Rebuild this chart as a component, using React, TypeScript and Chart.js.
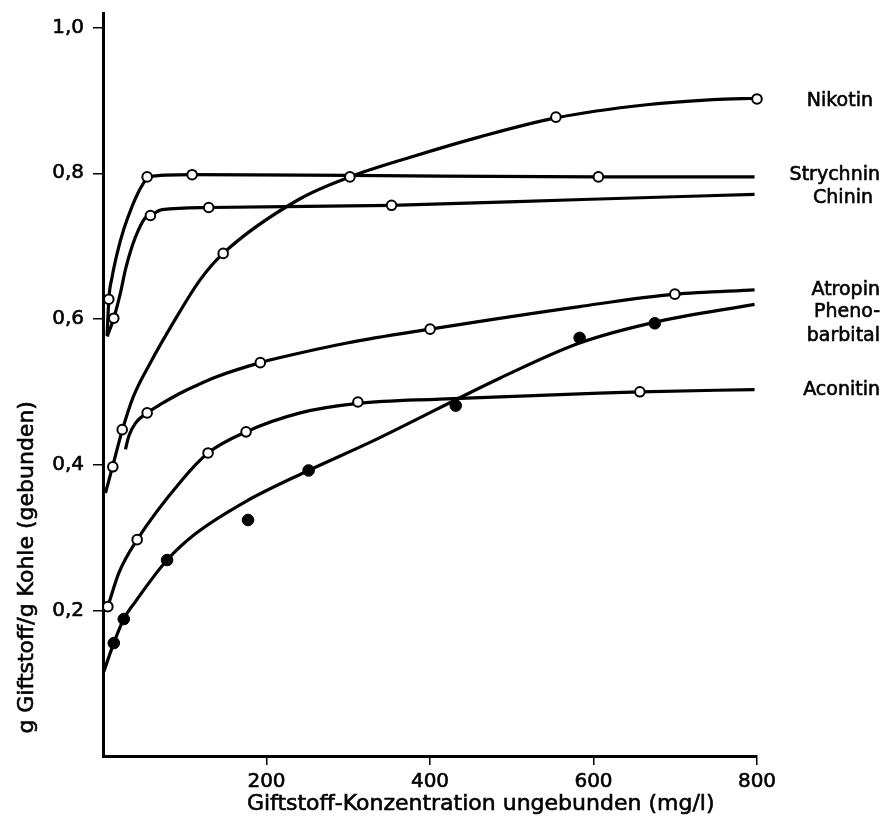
import { useEffect, useRef } from 'react';
import { Chart, registerables } from 'chart.js';

Chart.register(...registerables);

// ---------- axis ----------
const xTickValues = [200, 400, 600, 800];
const xTickLabels = ['200', '400', '600', '800'];
const yTickValues = [0.2, 0.4, 0.6, 0.8, 1.0];
const yTickLabels = ['0,2', '0,4', '0,6', '0,8', '1,0'];
const xTitle = 'Giftstoff-Konzentration ungebunden (mg/l)';
const yTitle = 'g Giftstoff/g Kohle (gebunden)';

// ---------- series names ----------
const seriesNames = ['Nikotin', 'Strychnin', 'Chinin', 'Atropin', 'Pheno-\nbarbital', 'Aconitin'];

// ---------- Nikotin ----------
const nikotinCurveX = [3, 11.6, 23.8, 37, 58, 86, 119, 147, 241, 302, 379, 461, 554, 665, 746, 800];
const nikotinCurveY = [0.361, 0.397, 0.448, 0.493, 0.54, 0.595, 0.654, 0.69, 0.765, 0.795, 0.823, 0.85, 0.876, 0.894, 0.901, 0.903];
const nikotinMarkX = [12, 23.5, 147, 302, 554, 800];
const nikotinMarkY = [0.397, 0.448, 0.69, 0.795, 0.877, 0.902];

// ---------- Strychnin ----------
const strychninCurveX = [5, 7.1, 11.2, 17.3, 25.4, 35.7, 43.7, 51.9, 54, 109, 300, 606, 797];
const strychninCurveY = [0.577, 0.627, 0.658, 0.69, 0.723, 0.755, 0.775, 0.791, 0.795, 0.798, 0.797, 0.795, 0.795];
const strychninMarkX = [7.1, 54, 109, 606];
const strychninMarkY = [0.627, 0.795, 0.798, 0.795];

// ---------- Chinin ----------
const chininCurveX = [5.1, 13.2, 21.4, 27.5, 35.7, 43.7, 51.9, 58, 72.3, 129.3, 353, 587, 797];
const chininCurveY = [0.576, 0.601, 0.636, 0.668, 0.7, 0.723, 0.739, 0.742, 0.75, 0.753, 0.756, 0.764, 0.771];
const chininMarkX = [13.2, 58, 129.3, 353];
const chininMarkY = [0.601, 0.742, 0.753, 0.756];

// ---------- Atropin ----------
const atropinCurveX = [27.5, 31.5, 39.7, 54, 72.3, 92.6, 113, 137.4, 192.4, 216.9, 298.4, 400.1, 583, 699.5, 797];
const atropinCurveY = [0.421, 0.439, 0.457, 0.471, 0.484, 0.497, 0.508, 0.52, 0.54, 0.547, 0.567, 0.586, 0.617, 0.634, 0.64];
const atropinMarkX = [54, 192.4, 400.1, 699.5];
const atropinMarkY = [0.471, 0.54, 0.586, 0.634];

// ---------- Phenobarbital ----------
const phenoCurveX = [1, 13.2, 25.4, 39.7, 78.4, 113, 174, 251.5, 333, 486, 583, 681, 797];
const phenoCurveY = [0.116, 0.155, 0.188, 0.212, 0.269, 0.305, 0.349, 0.392, 0.434, 0.519, 0.567, 0.597, 0.62];
const phenoMarkX = [13.2, 25.4, 78.4, 177.4, 251.5, 431.5, 583, 675];
const phenoMarkY = [0.155, 0.188, 0.269, 0.324, 0.392, 0.481, 0.574, 0.594];

// ---------- Aconitin ----------
const aconitinCurveX = [5.9, 19.3, 41.8, 96.7, 128.5, 175, 241.3, 311.8, 412, 583, 656.7, 797];
const aconitinCurveY = [0.205, 0.251, 0.297, 0.379, 0.416, 0.445, 0.471, 0.484, 0.49, 0.497, 0.5, 0.503];
const aconitinMarkX = [5.9, 41.8, 128.5, 175, 311.8, 656.7];
const aconitinMarkY = [0.205, 0.297, 0.416, 0.445, 0.486, 0.5];

const FONT = '"DejaVu Sans", "Liberation Sans", sans-serif';

const zip = (xs: number[], ys: number[]) => xs.map((x, i) => ({ x, y: ys[i] }));

const curve = (label: string, xs: number[], ys: number[]) => ({
  label,
  data: zip(xs, ys),
  showLine: true,
  borderColor: '#000',
  borderWidth: 3.2,
  pointRadius: 0,
  cubicInterpolationMode: 'monotone' as const,
  tension: 0.4,
  order: 2,
});

const openMarks = (label: string, xs: number[], ys: number[]) => ({
  label,
  data: zip(xs, ys),
  showLine: false,
  pointRadius: 4.8,
  pointBackgroundColor: '#fff',
  pointBorderColor: '#000',
  pointBorderWidth: 2,
  clip: false,
  order: 1,
});

const filledMarks = (label: string, xs: number[], ys: number[]) => ({
  label,
  data: zip(xs, ys),
  showLine: false,
  pointRadius: 5.8,
  pointBackgroundColor: '#000',
  pointBorderColor: '#000',
  pointBorderWidth: 1,
  clip: false,
  order: 1,
});

const drawText = (ctx: CanvasRenderingContext2D, t: string, x: number, y: number) => {
  ctx.fillText(t, x, y);
  ctx.strokeText(t, x, y);
};

const labelPlugin = {
  id: 'seriesLabels',
  afterDraw(chart: any) {
    const { ctx } = chart;
    const ys = chart.scales.y;
    const xs = chart.scales.x;
    ctx.save();
    ctx.fillStyle = '#000';
    ctx.strokeStyle = '#000';
    ctx.lineWidth = 0.6;
    ctx.font = `19px ${FONT}`;
    ctx.textAlign = 'right';
    ctx.textBaseline = 'middle';
    const anchors = [0.899, 0.797, 0.766, 0.64, 0.609, 0.577, 0.503];
    const rightInset = [12, 5, 12, 5, 5, 5, 5];
    const lines = [seriesNames[0], seriesNames[1], seriesNames[2], seriesNames[3], ...seriesNames[4].split('\n'), seriesNames[5]];
    lines.forEach((t, i) => drawText(ctx, t, chart.width - rightInset[i], ys.getPixelForValue(anchors[i])));

    // axis titles
    ctx.font = `22px ${FONT}`;
    ctx.textAlign = 'center';
    ctx.textBaseline = 'middle';
    drawText(ctx, xTitle, xs.getPixelForValue(462), chart.height - 27);
    ctx.translate(27, ys.getPixelForValue(0.259));
    ctx.rotate(-Math.PI / 2);
    drawText(ctx, yTitle, 0, 0);
    ctx.restore();
  },
};

export default function App() {
  const ref = useRef<HTMLCanvasElement | null>(null);
  useEffect(() => {
    if (!ref.current) return;
    const chart = new Chart(ref.current, {
      type: 'scatter',
      data: {
        datasets: [
          curve('Nikotin', nikotinCurveX, nikotinCurveY),
          curve('Strychnin', strychninCurveX, strychninCurveY),
          curve('Chinin', chininCurveX, chininCurveY),
          curve('Atropin', atropinCurveX, atropinCurveY),
          curve('Phenobarbital', phenoCurveX, phenoCurveY),
          curve('Aconitin', aconitinCurveX, aconitinCurveY),
          openMarks('Nikotin', nikotinMarkX, nikotinMarkY),
          openMarks('Strychnin', strychninMarkX, strychninMarkY),
          openMarks('Chinin', chininMarkX, chininMarkY),
          openMarks('Atropin', atropinMarkX, atropinMarkY),
          filledMarks('Phenobarbital', phenoMarkX, phenoMarkY),
          openMarks('Aconitin', aconitinMarkX, aconitinMarkY),
        ] as any,
      },
      options: {
        animation: false,
        responsive: true,
        maintainAspectRatio: false,
        layout: { padding: { top: 13, right: 128, bottom: 0, left: 0 } },
        plugins: { legend: { display: false }, tooltip: { enabled: false }, title: { display: false } },
        scales: {
          x: {
            type: 'linear',
            min: 0,
            max: 800,
            afterFit: (s: any) => { s.height = 75; s.paddingLeft = 0; s.paddingRight = 0; },
            afterBuildTicks: (s: any) => { s.ticks = xTickValues.map((v) => ({ value: v })); },
            ticks: {
              color: '#000',
              font: { family: FONT, size: 20 },
              padding: 5,
              maxRotation: 0,
              textStrokeColor: '#000',
              textStrokeWidth: 0.6,
              callback: (_v: any, i: number) => xTickLabels[i],
            },
            grid: { drawOnChartArea: false, drawTicks: true, tickLength: 9, color: '#000', lineWidth: 1.5 },
            border: { display: true, color: '#000', width: 3 },
          },
          y: {
            type: 'linear',
            min: 0,
            max: 1.02,
            afterFit: (s: any) => { s.width = 103; s.paddingTop = 0; s.paddingBottom = 0; },
            afterBuildTicks: (s: any) => { s.ticks = yTickValues.map((v) => ({ value: v })); },
            ticks: {
              color: '#000',
              font: { family: FONT, size: 20 },
              padding: 9,
              textStrokeColor: '#000',
              textStrokeWidth: 0.6,
              callback: (_v: any, i: number) => yTickLabels[i],
            },
            grid: { drawOnChartArea: false, drawTicks: true, tickLength: 10, color: '#000', lineWidth: 1.5 },
            border: { display: true, color: '#000', width: 3 },
          },
        },
      },
      plugins: [labelPlugin],
    });
    return () => chart.destroy();
  }, []);

  return (
    <div style={{ position: 'fixed', left: 0, top: 0, width: 885, height: 831, background: '#fff' }}>
      <canvas ref={ref} />
    </div>
  );
}
